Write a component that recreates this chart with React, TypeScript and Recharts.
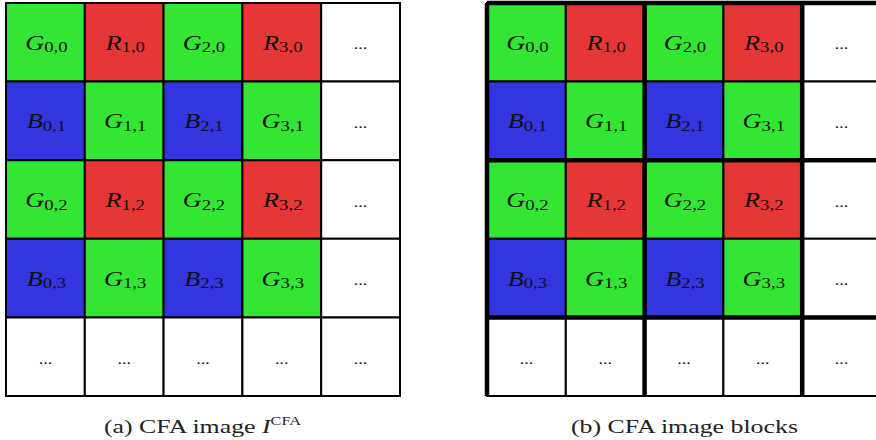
import React from 'react';
import { ScatterChart, Scatter, XAxis, YAxis, ReferenceArea, ReferenceLine } from 'recharts';

// Bayer pattern, row by row (rows 0..3, columns 0..3); the 5th row/column is "..."
const bayerRows = [
  ['G', 'R', 'G', 'R'],
  ['B', 'G', 'B', 'G'],
  ['G', 'R', 'G', 'R'],
  ['B', 'G', 'B', 'G'],
];
const gridColumns = [0, 1, 2, 3, 4];
const gridRows = [0, 1, 2, 3, 4];
const blockEdgesX = [0, 2, 4];
const blockEdgesY = [0, 2, 4];
const captions = ['(a) CFA image ', '(b) CFA image blocks'];

const channelColors: Record<string, string> = {
  G: '#33e633',
  R: '#e63636',
  B: '#3434e0',
  '...': '#ffffff',
};

const cells = gridRows.flatMap((r) =>
  gridColumns.map((c) => ({
    x: c + 0.5,
    y: r + 0.5,
    col: c,
    row: r,
    ch: r < 4 && c < 4 ? bayerRows[r][c] : '...',
  }))
);

const FONT = '"Liberation Serif", "Times New Roman", serif';

function CellLabel(props: any) {
  const { cx, cy, payload } = props;
  if (payload.ch === '...') {
    return (
      <text
        transform={`translate(${cx},${cy + 7}) scale(1.2,1)`}
        textAnchor="middle"
        fontFamily={FONT}
        fontSize={15}
        fill="#111"
      >
        ...
      </text>
    );
  }
  return (
    <text
      transform={`translate(${cx + 1},${cy + 7.5}) scale(1.25,1)`}
      textAnchor="middle"
      fontFamily={FONT}
      fill="#111"
    >
      <tspan fontStyle="italic" fontSize={21}>{payload.ch}</tspan>
      <tspan fontSize={15} dy={2.5}>{`${payload.col},${payload.row}`}</tspan>
    </text>
  );
}

function CfaGrid({ blocks }: { blocks: boolean }) {
  return (
    <ScatterChart width={410} height={400} margin={{ top: 3, right: 10, bottom: 4, left: 6 }}>
      <XAxis type="number" dataKey="x" domain={[0, 5]} hide />
      <YAxis type="number" dataKey="y" domain={[0, 5]} reversed hide />
      {cells.map((d) => (
        <ReferenceArea
          key={`${d.col}-${d.row}`}
          x1={d.col}
          x2={d.col + 1}
          y1={d.row}
          y2={d.row + 1}
          fill={channelColors[d.ch]}
          fillOpacity={1}
          stroke="#000"
          strokeWidth={2}
        />
      ))}
      <Scatter data={cells} shape={CellLabel} isAnimationActive={false} />
      {blocks &&
        blockEdgesX.map((v) => (
          <ReferenceLine key={`vx${v}`} x={v} stroke="#000" strokeWidth={4.5} />
        ))}
      {blocks &&
        blockEdgesY.map((v) => (
          <ReferenceLine key={`hy${v}`} y={v} stroke="#000" strokeWidth={4.5} />
        ))}
    </ScatterChart>
  );
}

export default function App() {
  const captionStyle: React.CSSProperties = {
    position: 'absolute',
    top: 416,
    width: 394,
    textAlign: 'center',
    fontFamily: FONT,
    fontSize: 19,
    lineHeight: '22px',
    color: '#222',
    whiteSpace: 'nowrap',
  };
  const stretch: React.CSSProperties = {
    display: 'inline-block',
    transform: 'scaleX(1.36)',
    transformOrigin: 'center',
  };
  return (
    <div
      style={{
        position: 'absolute',
        left: 0,
        top: 0,
        width: 876,
        height: 440,
        overflow: 'hidden',
        background: '#fff',
      }}
    >
      <div style={{ position: 'absolute', left: 0, top: 0 }}>
        <CfaGrid blocks={false} />
      </div>
      <div style={{ position: 'absolute', left: 481, top: 0 }}>
        <CfaGrid blocks={true} />
      </div>
      <div style={{ ...captionStyle, left: 6 }}>
        <span style={stretch}>
          {captions[0]}
          <i>I</i>
          <span style={{ fontSize: 12, position: 'relative', top: -8 }}>CFA</span>
        </span>
      </div>
      <div style={{ ...captionStyle, left: 487 }}>
        <span style={stretch}>{captions[1]}</span>
      </div>
    </div>
  );
}
